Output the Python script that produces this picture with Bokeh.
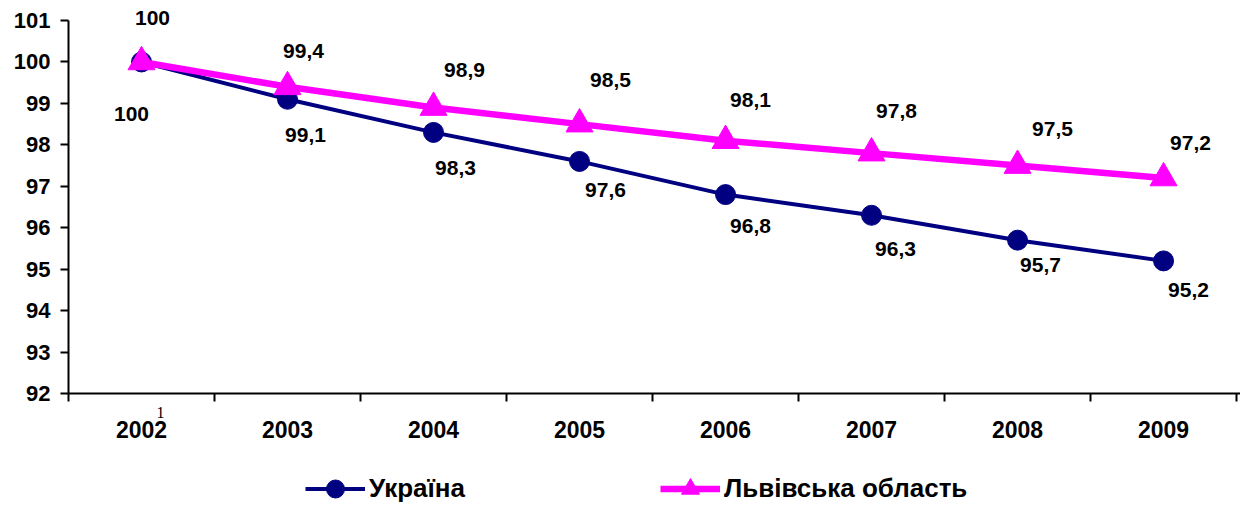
from bokeh.plotting import figure
from bokeh.models import (ColumnDataSource, Range1d, FixedTicker, LinearAxis,
                          Legend, LegendItem)
from bokeh.layouts import column
from bokeh.core.properties import value
from bokeh.embed import file_html
from bokeh.resources import INLINE

# ---- data ----
years = ["2002", "2003", "2004", "2005", "2006", "2007", "2008", "2009"]
ukraine = [100, 99.1, 98.3, 97.6, 96.8, 96.3, 95.7, 95.2]
lviv = [100, 99.4, 98.9, 98.5, 98.1, 97.8, 97.5, 97.2]
y_ticks = [92, 93, 94, 95, 96, 97, 98, 99, 100, 101]
series_names = ["Україна", "Львівська область"]
stray_note = "1"

# label offsets (screen px), style only
ua_dx = [-10, 18, 22, 26, 25, 24, 23, 25]
ua_dy = [52, 36, 36, 29, 31, 34, 25, 29]
lv_dx = [11, 16, 31, 31, 25, 25, 35, 27]
lv_dy = [-44, -36, -38, -44, -41, -42, -37, -35]

FONT = "Liberation Sans"
NAVY = "#000080"
PINK = "#FF00FF"

def fmt(v):
    return f"{v:g}".replace(".", ",")

xs = list(range(len(years)))
src_ua = ColumnDataSource(dict(x=xs, y=ukraine, t=[fmt(v) for v in ukraine], dx=ua_dx, dy=ua_dy))
src_lv = ColumnDataSource(dict(x=xs, y=lviv, t=[fmt(v) for v in lviv], dx=lv_dx, dy=lv_dy))

p = figure(width=1240, height=470, output_backend="svg", toolbar_location=None,
           x_range=Range1d(-0.5, 7.527), y_range=Range1d(y_ticks[0], 101.29),
           x_axis_location=None, y_axis_location=None,
           min_border_left=68, min_border_top=8, min_border_right=0, min_border_bottom=77)
p.outline_line_color = None
p.xgrid.visible = False
p.ygrid.visible = False

# y axis
yaxis = LinearAxis(ticker=FixedTicker(ticks=y_ticks), bounds=(y_ticks[0], y_ticks[-1]))
yaxis.axis_line_width = 2
yaxis.axis_line_color = "black"
yaxis.major_tick_line_width = 2
yaxis.major_tick_line_color = "black"
yaxis.major_tick_in = 0
yaxis.major_tick_out = 8
yaxis.minor_tick_line_color = None
yaxis.major_label_text_font = FONT
yaxis.major_label_text_font_style = "bold"
yaxis.major_label_text_font_size = "22px"
yaxis.major_label_text_color = "black"
yaxis.major_label_standoff = 10
p.add_layout(yaxis, "left")

# x axis: line + boundary ticks + stray note
xaxis_a = LinearAxis(ticker=FixedTicker(ticks=[0.13],
                                        minor_ticks=[i - 0.5 for i in range(len(years) + 1)]))
xaxis_a.major_label_overrides = {0.13: stray_note}
xaxis_a.axis_line_width = 2
xaxis_a.axis_line_color = "black"
xaxis_a.major_tick_line_color = None
xaxis_a.major_tick_in = 0
xaxis_a.major_tick_out = 0
xaxis_a.minor_tick_line_width = 2
xaxis_a.minor_tick_line_color = "black"
xaxis_a.minor_tick_in = 0
xaxis_a.minor_tick_out = 8
xaxis_a.major_label_text_font = "Liberation Serif"
xaxis_a.major_label_text_font_size = "16px"
xaxis_a.major_label_text_color = "black"
xaxis_a.major_label_standoff = 5
p.add_layout(xaxis_a, "below")

# x axis: year labels
xaxis_b = LinearAxis(ticker=FixedTicker(ticks=xs, minor_ticks=[]))
xaxis_b.major_label_overrides = {i: y for i, y in zip(xs, years)}
xaxis_b.axis_line_color = None
xaxis_b.major_tick_line_color = None
xaxis_b.minor_tick_line_color = None
xaxis_b.major_tick_in = 0
xaxis_b.major_tick_out = 0
xaxis_b.major_label_text_font = FONT
xaxis_b.major_label_text_font_style = "bold"
xaxis_b.major_label_text_font_size = "23px"
xaxis_b.major_label_text_color = "black"
xaxis_b.major_label_standoff = 0
p.add_layout(xaxis_b, "below")

# series
p.line("x", "y", source=src_ua, line_color=NAVY, line_width=4)
p.scatter("x", "y", source=src_ua, marker="circle", size=20, fill_color=NAVY, line_color=NAVY)
p.line("x", "y", source=src_lv, line_color=PINK, line_width=6.5)
p.scatter("x", "y", source=src_lv, marker="triangle", size=27, fill_color=PINK, line_color=PINK)

for src in (src_ua, src_lv):
    p.text("x", "y", text="t", source=src, x_offset="dx", y_offset="dy",
           text_font=value(FONT), text_font_style="bold", text_font_size="21px",
           text_align="center", text_baseline="middle", text_color="black")

# legend strip (its renderers share the series data, outside this strip's view)
p2 = figure(width=1240, height=36, output_backend="svg", toolbar_location=None,
            x_range=Range1d(100, 101), y_range=Range1d(0, 1),
            x_axis_location=None, y_axis_location=None,
            min_border_left=68, min_border_right=0, min_border_top=0, min_border_bottom=0)
p2.outline_line_color = None
p2.xgrid.visible = False
p2.ygrid.visible = False

r1 = [p2.line("x", "y", source=src_ua, line_color=NAVY, line_width=4),
      p2.scatter("x", "y", source=src_ua, marker="circle", size=20, fill_color=NAVY, line_color=NAVY)]
r2 = [p2.line("x", "y", source=src_lv, line_color=PINK, line_width=6.5),
      p2.scatter("x", "y", source=src_lv, marker="triangle", size=27, fill_color=PINK, line_color=PINK)]

def mk_legend(name, rends, loc):
    return Legend(items=[LegendItem(label=name, renderers=rends)], location=loc,
                  orientation="horizontal", padding=0, margin=0, border_line_color=None,
                  background_fill_alpha=0, glyph_width=60, glyph_height=45, label_standoff=4,
                  label_text_font=FONT, label_text_font_style="bold",
                  label_text_font_size="26px", label_text_color="black")

p2.add_layout(mk_legend(series_names[0], r1, (237, -5)), "center")
p2.add_layout(mk_legend(series_names[1], r2, (592, -5)), "center")

layout = column(p, p2, spacing=0)
open("out.html", "w").write(file_html(layout, INLINE))
